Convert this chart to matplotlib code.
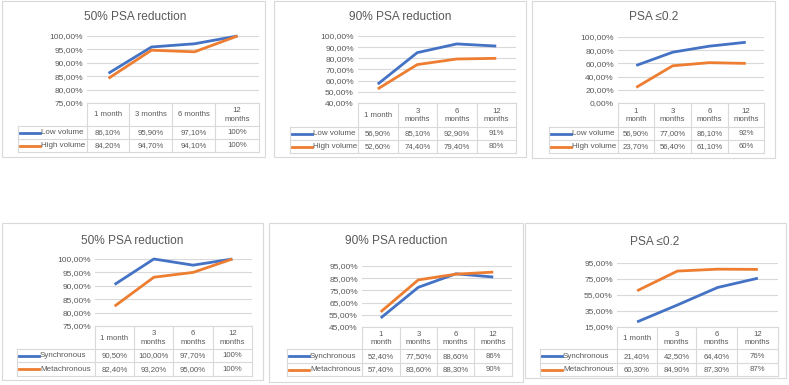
import matplotlib
matplotlib.use('Agg')
import matplotlib.pyplot as plt
from matplotlib.lines import Line2D
from matplotlib.patches import Rectangle

plt.rcParams['font.family'] = ['Liberation Sans', 'DejaVu Sans']

# ---------------- data ----------------
titles = ["50% PSA reduction", "90% PSA reduction", "PSA ≤0.2",
          "50% PSA reduction", "90% PSA reduction", "PSA ≤0.2"]

names_top = ["Low volume", "High volume"]
names_bottom = ["Synchronous", "Metachronous"]

headers_p1 = ["1 month", "3 months", "6 months", "12\nmonths"]
headers_p2 = ["1 month", "3\nmonths", "6\nmonths", "12\nmonths"]
headers_p3 = ["1\nmonth", "3\nmonths", "6\nmonths", "12\nmonths"]
headers_p4 = ["1 month", "3\nmonths", "6\nmonths", "12\nmonths"]
headers_p5 = ["1\nmonth", "3\nmonths", "6\nmonths", "12\nmonths"]
headers_p6 = ["1 month", "3\nmonths", "6\nmonths", "12\nmonths"]

low_50 = [86.1, 95.9, 97.1, 100]
high_50 = [84.2, 94.7, 94.1, 100]
low_90 = [56.9, 85.1, 92.9, 91]
high_90 = [52.6, 74.4, 79.4, 80]
low_02 = [56.9, 77.0, 86.1, 92]
high_02 = [23.7, 56.4, 61.1, 60]

sync_50 = [90.5, 100.0, 97.7, 100]
meta_50 = [82.4, 93.2, 95.0, 100]
sync_90 = [52.4, 77.5, 88.6, 86]
meta_90 = [57.4, 83.6, 88.3, 90]
sync_02 = [21.4, 42.5, 64.4, 76]
meta_02 = [60.3, 84.9, 87.3, 87]

yticks_p1 = [75, 80, 85, 90, 95, 100]
yticks_p2 = [40, 50, 60, 70, 80, 90, 100]
yticks_p3 = [0, 20, 40, 60, 80, 100]
yticks_p4 = [75, 80, 85, 90, 95, 100]
yticks_p5 = [45, 55, 65, 75, 85, 95]
yticks_p6 = [15, 35, 55, 75, 95]

panels_data = [
    (headers_p1, names_top, [low_50, high_50], yticks_p1),
    (headers_p2, names_top, [low_90, high_90], yticks_p2),
    (headers_p3, names_top, [low_02, high_02], yticks_p3),
    (headers_p4, names_bottom, [sync_50, meta_50], yticks_p4),
    (headers_p5, names_bottom, [sync_90, meta_90], yticks_p5),
    (headers_p6, names_bottom, [sync_02, meta_02], yticks_p6),
]

# ---------------- layout (pixels) ----------------
layouts = [
    dict(box=(2, 1, 265, 157), title=(135, 17), ptop=36, cols=[87, 129, 172, 215, 259],
         tt=103, rows=[126, 139, 152], leg=18),
    dict(box=(274, 1, 526, 157), title=(400, 17), ptop=36, cols=[358, 398, 437, 477, 516],
         tt=103, rows=[127, 140, 153], leg=290),
    dict(box=(532, 1, 775, 158), title=(654, 17), ptop=37, cols=[618, 654, 691, 728, 764],
         tt=103, rows=[127, 140, 153], leg=549),
    dict(box=(2, 223, 263, 380), title=(132, 241), ptop=259, cols=[95, 134, 173, 213, 252],
         tt=326, rows=[349, 362, 376], leg=17),
    dict(box=(269, 223, 523, 382), title=(396, 241), ptop=266, cols=[362, 400, 437, 474, 512],
         tt=327, rows=[349, 363, 376], leg=287),
    dict(box=(525, 223, 786, 378), title=(655, 242), ptop=263, cols=[617, 657, 696, 737, 778],
         tt=327, rows=[349, 363, 376], leg=540),
]

W, H = 789, 385
BLUE, ORANGE = '#4472C4', '#ED7D31'
GRID, BORDER, TXT = '#D9D9D9', '#D9D9D9', '#595959'
colors = [BLUE, ORANGE]

fig = plt.figure(figsize=(W / 100, H / 100), dpi=100)
fig.patch.set_facecolor('white')
ov = fig.add_axes([0, 0, 1, 1])
ov.set_xlim(0, W)
ov.set_ylim(H, 0)
ov.axis('off')


def pct(v, dec=2):
    return (f"{v:.{dec}f}%").replace('.', ',')


for (headers, names, series, yt), L in zip(panels_data, layouts):
    x0, y0, x1, y1 = L['box']
    ov.add_patch(Rectangle((x0, y0), x1 - x0, y1 - y0, fill=False, ec=BORDER, lw=0.8))
    i = layouts.index(L)
    ov.text(L['title'][0], L['title'][1], titles[i], ha='center', va='center',
            fontsize=8.6, color=TXT)

    cols = L['cols']
    px0, px1 = cols[0], cols[-1]
    ptop, tt = L['ptop'], L['tt']
    ax = fig.add_axes([px0 / W, 1 - tt / H, (px1 - px0) / W, (tt - ptop) / H])
    ax.set_xlim(-0.5, 3.5)
    ax.set_ylim(yt[0], yt[-1])
    ax.set_yticks(yt)
    ax.set_yticklabels([pct(v) for v in yt])
    ax.tick_params(axis='y', length=0, labelsize=6, colors=TXT, pad=3)
    ax.set_xticks([])
    for s in ax.spines.values():
        s.set_visible(False)
    ax.grid(axis='y', color=GRID, lw=0.8)
    ax.set_axisbelow(True)
    ax.patch.set_alpha(0)
    for vals, c in zip(series, colors):
        ax.plot(range(len(vals)), vals, color=c, lw=2.0, solid_capstyle='butt',
                clip_on=False, zorder=3)

    # data table
    rows = L['rows']
    leg = L['leg']
    lk = dict(color=BORDER, lw=0.8)
    ov.add_line(Line2D([px0, px1], [tt, tt], **lk))
    for yy in rows:
        ov.add_line(Line2D([leg, px1], [yy, yy], **lk))
    for xx in cols:
        ov.add_line(Line2D([xx, xx], [tt, rows[-1]], **lk))
    ov.add_line(Line2D([leg, leg], [rows[0], rows[-1]], **lk))

    for j, h in enumerate(headers):
        ov.text((cols[j] + cols[j + 1]) / 2, (tt + rows[0]) / 2 + 0.5, h, ha='center',
                va='center', fontsize=5.6, color=TXT, linespacing=1.25)
    for r, (vals, c, nm) in enumerate(zip(series, colors, names)):
        yc = (rows[r] + rows[r + 1]) / 2 + 0.3
        ov.add_line(Line2D([leg + 2, leg + 22], [yc, yc], color=c, lw=2.0))
        ov.text(leg + 23, yc, nm, ha='left', va='center', fontsize=5.8, color=TXT)
        for j, v in enumerate(vals):
            txt = pct(v, 0) if j == len(vals) - 1 else pct(v)
            ov.text((cols[j] + cols[j + 1]) / 2, yc, txt, ha='center', va='center',
                    fontsize=5.6, color=TXT)

fig.savefig('out.png', dpi=100, facecolor='white')
